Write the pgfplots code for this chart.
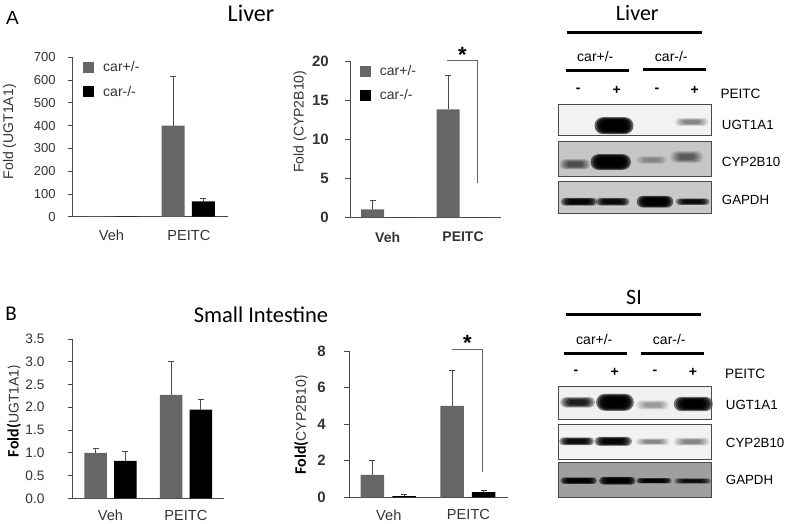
\documentclass[border=0pt]{standalone}
\usepackage{fontspec}
\setmainfont{Liberation Sans}
\newfontfamily\calb{Carlito}
\usepackage{pgfplots}
\pgfplotsset{compat=1.18}
\definecolor{barg}{HTML}{666666}
\definecolor{axc}{HTML}{4A4A4A}
\definecolor{txt}{HTML}{333333}
\newcommand{\fs}[1]{\fontsize{#1}{#1}\selectfont}
\newcommand{\band}[6]{% x y w h colour opacity
  \foreach \s in {1.3,1.17,1.05,.93,.82,.7,.6}{
    \pgfmathsetmacro{\bw}{#3*\s}\pgfmathsetmacro{\bh}{#4*\s}\pgfmathsetmacro{\br}{#4*\s/2}
    \fill[#5,opacity=#6,rounded corners=\br pt] ({#1-\bw/2},{#2-\bh/2}) rectangle ({#1+\bw/2},{#2+\bh/2});
  }}
\pgfplotsset{
  panel/.style={
    scale only axis, ybar, clip=false,
    axis x line*=bottom, axis y line*=left,
    axis line style={axc,line width=0.9pt},
    xmin=-0.5,xmax=1.5,xtick={0,1},xticklabels={Veh,PEITC},
    ymin=0,
    enlargelimits=false,
    tick align=outside, major tick length=5pt,
    xtick style={draw=none},
    ytick style={axc,line width=0.8pt},
    /pgf/number format/assume math mode=true,
    tick label style={text=txt},
    yticklabel style={inner sep=0pt,xshift=-12pt},
    xticklabel style={inner sep=0pt,yshift=-8pt,font=\fs{14.6}},
    y label style={anchor=center},
    error bars/y dir=plus, error bars/y explicit,
    error bars/error bar style={axc,line width=1pt},
    error bars/error mark options={axc,rotate=90,mark size=3pt,line width=1pt},
    area legend,
    legend image code/.code={\fill[##1] (0pt,-5.5pt) rectangle (11pt,5.5pt);},
    legend cell align=left,
    legend style={draw=none,fill=none,inner sep=0pt,outer sep=0pt,font=\fs{14},text=txt,
      row sep=12.5pt,anchor=north west,nodes={inner sep=0pt,outer sep=0pt}},
  },
  gbar/.style={fill=barg,draw=none},
  kbar/.style={fill=black,draw=none},
}
\begin{document}
\begin{tikzpicture}
\useasboundingbox (0pt,0pt) rectangle (787pt,523pt);
% A left
\begin{axis}[panel,at={(72.7pt,306.3pt)},anchor=south west,width=155pt,height=159.4pt,bar width=23pt,
  ymax=700,ytick={0,100,200,300,400,500,600,700},
  yticklabel style={font=\fs{13}},
  ylabel={\fs{14}\color{txt}Fold (UGT1A1)},
  y label style={at={(axis description cs:-0.408,0.533)}},
  legend style={at={(axis description cs:0.068,0.972)}}]
\addplot[gbar,bar shift=-15.8pt] coordinates {(0,1) (1,400) +- (0,217)};
\addplot[kbar,bar shift=14.5pt] coordinates {(0,1) (1,67) +- (0,13)};
\legend{\hspace{9pt}car+/-,\hspace{9pt}car-/-}
\end{axis}
% A middle
\begin{axis}[panel,at={(350pt,305.7pt)},anchor=south west,width=150.7pt,height=156.3pt,bar width=23pt,
  ymax=20,ytick={0,5,10,15,20},
  yticklabel style={font=\fs{15}\bfseries,xshift=-4pt},
  xticklabel style={font=\fs{14}\bfseries,yshift=-1.5pt},
  ylabel={\fs{14}\color{txt}Fold (CYP2B10)},
  y label style={at={(axis description cs:-0.332,0.612)}},
  legend style={at={(axis description cs:0.066,0.97)}}]
\addplot[gbar,bar shift=-15pt] coordinates {(0,1) +- (0,1.1) (1,13.8) +- (0,4.4)};
\addplot[kbar,bar shift=15pt] coordinates {(0,0) (1,0)};
\legend{\hspace{9pt}car+/-,\hspace{9pt}car-/-}
\end{axis}
% B left
\begin{axis}[panel,at={(72.7pt,24.7pt)},anchor=south west,width=151pt,height=159.3pt,bar width=22.5pt,
  ymax=3.5,ytick={0,0.5,1,1.5,2,2.5,3,3.5},
  /pgf/number format/.cd,fixed,fixed zerofill,precision=1,/pgfplots/.cd,
  yticklabel style={font=\fs{13.7},xshift=-11pt},
  xticklabel style={yshift=1.5pt},
  ylabel={{\calb\bfseries\fs{16}Fold(}{\fs{14}\color{txt}UGT1A1{\calb\fs{15})}}},
  y label style={at={(axis description cs:-0.389,0.548)}}]
\addplot[gbar,bar shift=-14.7pt] coordinates {(0,1.0) +- (0,0.1) (1,2.27) +- (0,0.73)};
\addplot[kbar,bar shift=15pt] coordinates {(0,0.82) +- (0,0.21) (1,1.95) +- (0,0.22)};
\end{axis}
% B middle
\begin{axis}[panel,at={(349pt,25.7pt)},anchor=south west,width=159.3pt,height=146.3pt,bar width=23.5pt,
  ymax=8,ytick={0,2,4,6,8},
  yticklabel style={font=\fs{15}\bfseries,xshift=-6pt},
  xticklabel style={yshift=1pt},
  ylabel={{\calb\bfseries\fs{16}Fold(}{\fs{14}\color{txt}CYP2B10{\calb\fs{15})}}},
  y label style={at={(axis description cs:-0.301,0.494)}}]
\addplot[gbar,bar shift=-16.4pt] coordinates {(0,1.22) +- (0,0.78) (1,5.0) +- (0,1.92)};
\addplot[kbar,bar shift=15.2pt] coordinates {(0,0.07) +- (0,0.08) (1,0.28) +- (0,0.1)};
\end{axis}
% annotations in reference pixel coordinates
\begin{scope}[x=1pt,y=-1pt,yshift=523pt]
\node[font=\calb\fs{24}] at (251,13.5) {Liver};
\node[font=\calb\fs{22.5}] at (261,315) {Small Intestine};
\node[font=\fs{19},inner sep=0pt] at (12.5,17.7) {A};
\node[font=\calb\fs{21},inner sep=0pt] at (11,314) {B};
\draw[barg,line width=1pt] (447.3,61) -- (477.3,61) -- (477.3,183.3);
\node[font=\fs{22}\bfseries,inner sep=0pt] at (462.3,54.5) {*};
\draw[barg,line width=1pt] (452,349.5) -- (482.3,349.5) -- (482.3,472.3);
\node[font=\fs{22}\bfseries,inner sep=0pt] at (467.3,343) {*};
% Liver blot
\node[font=\calb\fs{22}] at (637.3,12.7) {Liver};
\draw[black,line width=3pt] (567,32.7) -- (702.3,32.7);
\node[font=\fs{14}] at (595.3,56) {car+/-};
\node[font=\fs{14}] at (671.3,56) {car-/-};
\draw[black,line width=2.5pt] (565.7,70.7) -- (629.3,70.7);
\draw[black,line width=2.5pt] (642.7,69.7) -- (706,69.7);
\foreach \x/\t in {578.3/-,616.7/+,657/-,694.7/+}{\node[font=\fs{14}\bfseries,inner sep=0pt] at (\x,90) {\t};}
\node[font=\fs{13.6},anchor=west,inner sep=0pt] at (720.3,94) {PEITC};
\fill[gray!10] (558,104.3) rectangle (711.7,136);
\fill[gray!45!white] (558,141.7) rectangle (711.7,177);
\fill[gray!42!white] (558,181.7) rectangle (711.7,214);
\band{614}{125.7}{30}{13}{black}{.6}
\band{691.7}{122}{26}{6}{black}{.08}
\band{575}{164.3}{24}{8}{black}{.12}
\band{610.7}{162}{31}{12}{black}{.6}
\band{651.7}{160}{24}{6}{black}{.05}
\band{686.7}{157}{25}{9}{black}{.1}
\band{579}{201.7}{28}{6}{black}{.4}
\band{612.7}{201.7}{26}{6}{black}{.35}
\band{655}{201.7}{28}{9}{black}{.55}
\band{692.7}{201.7}{26}{5}{black}{.35}
\draw[axc,line width=1pt] (558,104.3) rectangle (711.7,136);
\draw[axc,line width=1pt] (558,141.7) rectangle (711.7,177);
\draw[axc,line width=1pt] (558,181.7) rectangle (711.7,214);
\node[font=\fs{13.3},anchor=west,inner sep=0pt] at (721.7,125) {UGT1A1};
\node[font=\fs{13.3},anchor=west,inner sep=0pt] at (721.7,162.3) {CYP2B10};
\node[font=\fs{13.3},anchor=west,inner sep=0pt] at (721.7,200) {GAPDH};
% SI blot
\node[font=\calb\fs{22}] at (634,297.3) {SI};
\draw[black,line width=3pt] (566,314.3) -- (701.3,314.3);
\node[font=\fs{14}] at (594.3,339) {car+/-};
\node[font=\fs{14}] at (669.3,339) {car-/-};
\draw[black,line width=2.5pt] (564,353.3) -- (627,353.3);
\draw[black,line width=2.5pt] (641,353.3) -- (704,353.3);
\foreach \x/\t in {576/-,614.7/+,655/-,693/+}{\node[font=\fs{14}\bfseries,inner sep=0pt] at (\x,372.7) {\t};}
\node[font=\fs{13.6},anchor=west,inner sep=0pt] at (725,374) {PEITC};
\fill[gray!12] (558,386.7) rectangle (711,419.3);
\fill[gray!10] (558,424.3) rectangle (711,459.3);
\fill[gray!75!white] (558,462.3) rectangle (711,497.7);
\band{577.7}{402.3}{27}{8}{black}{.25}
\band{615}{402.3}{29}{13}{black}{.55}
\band{652.7}{405}{26}{7}{black}{.06}
\band{693.3}{404}{30}{11}{black}{.5}
\band{576.7}{441.3}{27}{6}{black}{.35}
\band{613.3}{441.3}{29}{7}{black}{.4}
\band{652.7}{441.7}{26}{5}{black}{.08}
\band{691.7}{441.7}{28}{6}{black}{.08}
\band{578.7}{480.7}{28}{5}{black}{.45}
\band{617.3}{480.7}{28}{6}{black}{.5}
\band{654}{480.7}{27}{4}{black}{.45}
\band{692.7}{481}{28}{4}{black}{.3}
\draw[axc,line width=1pt] (558,386.7) rectangle (711,419.3);
\draw[axc,line width=1pt] (558,424.3) rectangle (711,459.3);
\draw[axc,line width=1pt] (558,462.3) rectangle (711,497.7);
\node[font=\fs{13.3},anchor=west,inner sep=0pt] at (725.7,405) {UGT1A1};
\node[font=\fs{13.3},anchor=west,inner sep=0pt] at (725.7,442.7) {CYP2B10};
\node[font=\fs{13.3},anchor=west,inner sep=0pt] at (725.7,480) {GAPDH};
\end{scope}
\end{tikzpicture}
\end{document}
